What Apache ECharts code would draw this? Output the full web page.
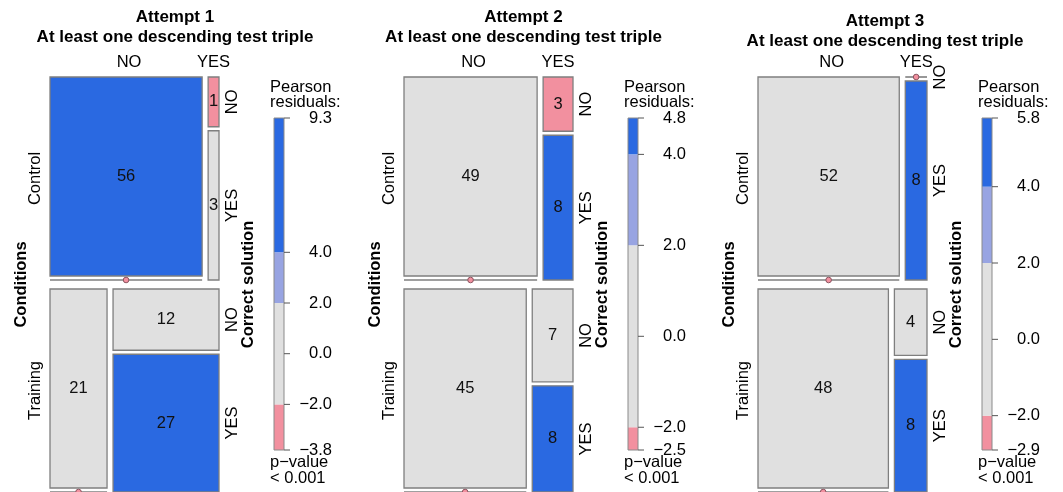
<!DOCTYPE html>
<html><head><meta charset="utf-8">
<script src="https://cdn.jsdelivr.net/npm/echarts@6/dist/echarts.min.js"></script>
<style>html,body{margin:0;padding:0;background:#fff}#c{width:1063px;height:492px}</style>
</head><body><div id="c"></div>
<script>
// ---------------- data ----------------
const attemptNames = ['Attempt 1', 'Attempt 2', 'Attempt 3'];
const subtitle = 'At least one descending test triple';
const conditions = ['Control', 'Training'];
const tripleLevels = ['NO', 'YES'];
const correctLevels = ['NO', 'YES'];
// counts[condition][descending triple][correct solution]
const attempt1Counts = [[[56, 0], [1, 3]], [[21, 0], [12, 27]]];
const attempt2Counts = [[[49, 0], [3, 8]], [[45, 0], [7, 8]]];
const attempt3Counts = [[[52, 0], [0, 8]], [[48, 0], [4, 8]]];
const legendTicks1 = [9.3, 4.0, 2.0, 0.0, -2.0, -3.8];
const legendTicks2 = [4.8, 4.0, 2.0, 0.0, -2.0, -2.5];
const legendTicks3 = [5.8, 4.0, 2.0, 0.0, -2.0, -2.9];
const pValueTexts = ['< 0.001', '< 0.001', '< 0.001'];
const shadeBreaks = [-4, -2, 2, 4];

// ---------------- layout / style ----------------
const allCounts = [attempt1Counts, attempt2Counts, attempt3Counts];
const allTicks = [legendTicks1, legendTicks2, legendTicks3];
const PLOT_LEFT = [50, 404, 758];
const PLOT_TOP = 77, PLOT_W = 169, PLOT_H = 415;
const TITLE_X = [175, 523.5, 885];
const TITLE_Y = [17.5, 17.5, 21.5];
const LEG_DX = 224, LEG_TOP = 118, LEG_W = 10, LEG_H = 332;
const GAP_ROW = 9, GAP_COL = 6, GAP_IN = 4;
const FONT = '"Liberation Sans", Arial, Helvetica, sans-serif';
const F_REG = '16.5px ' + FONT;
const F_BOLD = 'bold 16.5px ' + FONT;
const F_TITLE = 'bold 17px ' + FONT;
const C_BLUE = '#2a69e1', C_LBLUE = '#98a4e2', C_GRAY = '#e0e0e0', C_PINK = '#f2909f', C_RED = '#d9475a';
const C_BORDER = '#7f7f7f';

function shade(r) {
  if (r > 4) return C_BLUE;
  if (r > 2) return C_LBLUE;
  if (r < -4) return C_RED;
  if (r < -2) return C_PINK;
  return C_GRAY;
}
const sum = a => a.reduce((s, v) => s + v, 0);

// mosaic layout in data units (x 0..1 left->right, y 0..1 top->bottom)
function mosaic(counts) {
  const gx = GAP_COL / PLOT_W, gy1 = GAP_ROW / PLOT_H, gy3 = GAP_IN / PLOT_H;
  const N = sum(counts.map(r => sum(r.map(c => sum(c)))));
  const pC = counts.map(r => sum(r.map(c => sum(c))) / N);
  const pT = [0, 1].map(t => sum(counts.map(r => sum(r[t]))) / N);
  const pK = [0, 1].map(k => sum(counts.map(r => sum(r.map(c => c[k])))) / N);
  const cells = [];
  let y = 0;
  counts.forEach((row, ci) => {
    const rowTot = sum(row.map(c => sum(c)));
    const h = (1 - gy1) * pC[ci];
    let x = 0;
    row.forEach((col, ti) => {
      const colTot = sum(col);
      const w = (1 - gx) * colTot / rowTot;
      let yy = y;
      col.forEach((n, ki) => {
        const hh = (h - gy3) * n / colTot;
        const e = N * pC[ci] * pT[ti] * pK[ki];
        const res = (n - e) / Math.sqrt(e);
        cells.push({ ci, ti, ki, n, res, x0: x, x1: x + w, y0: yy, y1: yy + hh });
        yy += hh + gy3;
      });
      x += w + gx;
    });
    y += h + gy1;
  });
  return cells;
}

const grids = [], xAxes = [], yAxes = [], series = [], graphics = [];

allCounts.forEach((counts, p) => {
  const cells = mosaic(counts);
  const ticks = allTicks[p];
  const legMax = ticks[0], legMin = ticks[ticks.length - 1];

  const mi = grids.length;
  grids.push({ left: PLOT_LEFT[p], top: PLOT_TOP, width: PLOT_W, height: PLOT_H });
  xAxes.push({ type: 'value', gridIndex: mi, min: 0, max: 1, show: false });
  yAxes.push({ type: 'value', gridIndex: mi, min: 0, max: 1, inverse: true, show: false });

  // tiles
  series.push({
    type: 'custom', xAxisIndex: mi, yAxisIndex: mi, silent: true, clip: false,
    data: cells.map(c => [c.x0, c.x1, c.y0, c.y1, c.n, c.res]),
    encode: { x: [0, 1], y: [2, 3] },
    renderItem(params, api) {
      const p0 = api.coord([api.value(0), api.value(2)]);
      const p1 = api.coord([api.value(1), api.value(3)]);
      const n = api.value(4), col = shade(api.value(5));
      if (n === 0) {
        return { type: 'group', children: [
          { type: 'line', shape: { x1: p0[0], y1: p0[1], x2: p1[0], y2: p0[1] }, style: { stroke: C_BORDER, lineWidth: 1.6 } },
          { type: 'circle', shape: { cx: (p0[0] + p1[0]) / 2, cy: p0[1], r: 2.8 }, style: { fill: col, stroke: '#8c5560', lineWidth: 1 } }
        ] };
      }
      return { type: 'group', children: [
        { type: 'rect', shape: { x: p0[0], y: p0[1], width: p1[0] - p0[0], height: p1[1] - p0[1] },
          style: { fill: col, stroke: C_BORDER, lineWidth: 1.3 } },
        { type: 'text', x: (p0[0] + p1[0]) / 2, y: (p0[1] + p1[1]) / 2,
          style: { text: String(n), font: F_REG, fill: '#111', align: 'center', verticalAlign: 'middle', textAlign: 'center', textVerticalAlign: 'middle' } }
      ] };
    }
  });

  // category + variable labels (positions derived from layout)
  const labels = [];
  const rowCells = ci => cells.filter(c => c.ci === ci);
  rowCells(0).filter(c => c.ki === 0).forEach(c => {
    labels.push({ text: tripleLevels[c.ti], xd: (c.x0 + c.x1) / 2, yd: 0, dx: c.ti === 0 ? 3 : 0, dy: -15, rot: 0, font: F_REG });
  });
  conditions.forEach((name, ci) => {
    const rc = rowCells(ci);
    const top = Math.min(...rc.map(c => c.y0)), bot = Math.max(...rc.map(c => c.y1));
    labels.push({ text: name, xd: 0, yd: (top + bot) / 2, dx: -15, dy: 0, rot: Math.PI / 2, font: F_REG });
    rc.filter(c => c.ti === 1).forEach(c => {
      labels.push({ text: correctLevels[c.ki], xd: 1, yd: (c.y0 + c.y1) / 2, dx: 13, dy: 0, rot: Math.PI / 2, font: F_REG });
    });
  });
  labels.push({ text: 'Conditions', xd: 0, yd: 0.5, dx: -28.5, dy: 0, rot: Math.PI / 2, font: F_BOLD });
  labels.push({ text: 'Correct solution', xd: 1, yd: 0.5, dx: 29.5, dy: 0, rot: Math.PI / 2, font: F_BOLD });
  series.push({
    type: 'custom', xAxisIndex: mi, yAxisIndex: mi, silent: true, clip: false,
    data: labels.map(l => [l.xd, l.yd]),
    renderItem(params, api) {
      const l = labels[params.dataIndex];
      const pt = api.coord([api.value(0), api.value(1)]);
      return { type: 'text', x: pt[0] + l.dx, y: pt[1] + l.dy, rotation: l.rot,
        style: { text: l.text, font: l.font, fill: '#000', align: 'center', verticalAlign: 'middle', textAlign: 'center', textVerticalAlign: 'middle' } };
    }
  });

  // legend colour bar
  const lg = grids.length;
  grids.push({ left: PLOT_LEFT[p] + LEG_DX, top: LEG_TOP, width: LEG_W, height: LEG_H });
  xAxes.push({ type: 'value', gridIndex: lg, min: 0, max: 1, show: false });
  yAxes.push({ type: 'value', gridIndex: lg, min: legMin, max: legMax, show: false });
  const bounds = [legMin, ...shadeBreaks.filter(b => b > legMin && b < legMax), legMax];
  const segs = [];
  for (let i = 0; i < bounds.length - 1; i++) segs.push([bounds[i], bounds[i + 1]]);
  series.push({
    type: 'custom', xAxisIndex: lg, yAxisIndex: lg, silent: true, clip: false,
    data: segs, encode: { y: [0, 1] },
    renderItem(params, api) {
      const lo = api.value(0), hi = api.value(1);
      const a = api.coord([0, hi]), b = api.coord([1, lo]);
      return { type: 'rect', shape: { x: a[0], y: a[1], width: b[0] - a[0], height: b[1] - a[1] },
        style: { fill: shade((lo + hi) / 2), stroke: null } };
    }
  });
  series.push({
    type: 'custom', xAxisIndex: lg, yAxisIndex: lg, silent: true, clip: false,
    data: [[legMin, legMax]], encode: { y: [0, 1] },
    renderItem(params, api) {
      const a = api.coord([0, api.value(1)]), b = api.coord([1, api.value(0)]);
      return { type: 'rect', shape: { x: a[0], y: a[1], width: b[0] - a[0], height: b[1] - a[1] },
        style: { fill: null, stroke: '#8a8a8a', lineWidth: 1 } };
    }
  });
  series.push({
    type: 'custom', xAxisIndex: lg, yAxisIndex: lg, silent: true, clip: false,
    data: ticks.map(t => [1, t]), encode: { x: 0, y: 1 },
    renderItem(params, api) {
      const v = api.value(1);
      const pt = api.coord([1, v]);
      const txt = (v < 0 ? '\u2212' : '') + Math.abs(v).toFixed(1);
      return { type: 'group', children: [
        { type: 'line', shape: { x1: pt[0], y1: pt[1], x2: pt[0] + 6, y2: pt[1] }, style: { stroke: '#555', lineWidth: 1 } },
        { type: 'text', x: pt[0] + 48, y: pt[1],
          style: { text: txt, font: F_REG, fill: '#000', align: 'right', verticalAlign: 'middle', textAlign: 'right', textVerticalAlign: 'middle' } }
      ] };
    }
  });

  // titles and legend captions
  const tx = TITLE_X[p], ty = TITLE_Y[p];
  const tStyle = (text, font, align) => ({ text, font, fill: '#000', align, verticalAlign: 'middle', textAlign: align, textVerticalAlign: 'middle' });
  graphics.push({ type: 'text', x: tx, y: ty, style: tStyle(attemptNames[p], F_TITLE, 'center') });
  graphics.push({ type: 'text', x: tx, y: ty + 20, style: tStyle(subtitle, F_TITLE, 'center') });
  const lx = PLOT_LEFT[p] + LEG_DX - 4;
  graphics.push({ type: 'text', x: lx, y: LEG_TOP - 31, style: tStyle('Pearson', F_REG, 'left') });
  graphics.push({ type: 'text', x: lx, y: LEG_TOP - 16, style: tStyle('residuals:', F_REG, 'left') });
  graphics.push({ type: 'text', x: lx, y: LEG_TOP + LEG_H + 12, style: tStyle('p\u2212value', F_REG, 'left') });
  graphics.push({ type: 'text', x: lx, y: LEG_TOP + LEG_H + 28, style: tStyle(pValueTexts[p], F_REG, 'left') });
});

const chart = echarts.init(document.getElementById('c'), null, { renderer: 'canvas' });
chart.setOption({
  animation: false,
  backgroundColor: '#ffffff',
  grid: grids, xAxis: xAxes, yAxis: yAxes,
  series: series,
  graphic: { elements: graphics }
});
</script></body></html>
